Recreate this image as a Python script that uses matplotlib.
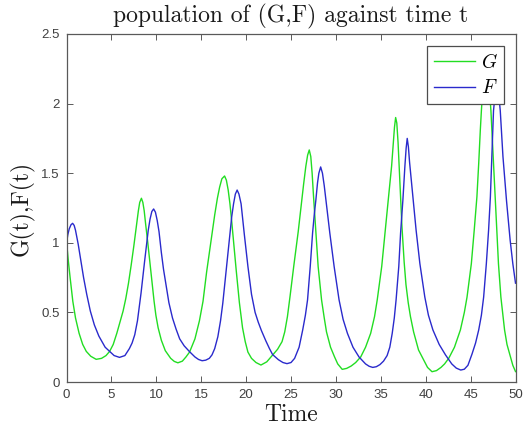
import matplotlib
matplotlib.use("Agg")
import matplotlib.pyplot as plt

# ---- data: (time, value) ----
g_points = [
    (0.0, 1.00), (0.1, 0.94), (0.2, 0.87), (0.4, 0.75), (0.7, 0.58), (1.0, 0.46), (1.4, 0.35),
    (1.8, 0.27), (2.2, 0.22), (2.7, 0.185), (3.3, 0.163), (3.9, 0.17), (4.4, 0.19), (4.8, 0.22),
    (5.2, 0.27), (5.6, 0.35), (6.0, 0.44), (6.3, 0.51), (6.6, 0.60), (6.9, 0.71), (7.2, 0.84),
    (7.5, 0.98), (7.7, 1.08), (7.85, 1.16), (8.0, 1.23), (8.15, 1.29), (8.34, 1.32), (8.5, 1.29),
    (8.65, 1.23), (8.8, 1.14), (9.05, 1.00), (9.3, 0.85), (9.55, 0.70), (9.75, 0.58), (9.95, 0.48),
    (10.2, 0.39), (10.56, 0.30), (11.0, 0.225), (11.6, 0.17), (12.0, 0.148), (12.4, 0.138),
    (12.9, 0.15), (13.3, 0.18), (13.7, 0.215), (14.3, 0.31), (14.8, 0.44), (15.2, 0.58),
    (15.6, 0.79), (16.1, 1.02), (16.5, 1.20), (16.8, 1.32), (17.05, 1.40), (17.3, 1.46),
    (17.6, 1.48), (17.8, 1.45), (18.0, 1.38), (18.2, 1.28), (18.4, 1.15), (18.6, 1.01),
    (18.9, 0.80), (19.25, 0.57), (19.6, 0.39), (19.9, 0.29), (20.2, 0.215), (20.6, 0.17),
    (21.1, 0.14), (21.65, 0.122), (22.3, 0.145), (22.95, 0.194), (23.5, 0.235), (24.0, 0.29),
    (24.3, 0.36), (24.6, 0.47), (24.9, 0.62), (25.3, 0.83), (25.8, 1.08), (26.1, 1.25),
    (26.4, 1.42), (26.65, 1.55), (26.85, 1.63), (27.03, 1.667), (27.2, 1.62), (27.35, 1.50),
    (27.5, 1.34), (27.77, 1.07), (28.02, 0.83), (28.4, 0.59), (28.7, 0.46), (28.95, 0.36),
    (29.4, 0.25), (29.85, 0.18), (30.2, 0.13), (30.7, 0.091), (31.2, 0.098), (31.7, 0.115),
    (32.2, 0.14), (32.76, 0.18), (33.3, 0.25), (33.87, 0.35), (34.3, 0.47), (34.6, 0.59),
    (35.1, 0.83), (35.46, 1.07), (35.83, 1.31), (36.2, 1.55), (36.4, 1.72), (36.52, 1.83),
    (36.65, 1.90), (36.78, 1.86), (36.92, 1.72), (37.1, 1.47), (37.35, 1.12), (37.6, 0.86),
    (37.8, 0.70), (38.05, 0.57), (38.3, 0.47), (38.65, 0.36), (39.2, 0.23), (39.8, 0.155),
    (40.2, 0.105), (40.7, 0.074), (41.2, 0.082), (41.7, 0.105), (42.1, 0.13), (42.56, 0.17),
    (43.2, 0.25), (43.86, 0.374), (44.3, 0.50), (44.6, 0.61), (45.08, 0.85), (45.4, 1.09),
    (45.7, 1.33), (45.9, 1.57), (46.08, 1.81), (46.2, 1.95), (46.45, 2.20), (46.73, 2.28),
    (47.0, 2.18), (47.26, 1.95), (47.45, 1.70), (47.6, 1.50), (47.8, 1.25), (47.95, 1.05),
    (48.1, 0.85), (48.37, 0.61), (48.78, 0.374), (49.05, 0.27), (49.33, 0.206), (49.7, 0.12),
    (50.0, 0.075),
]

f_points = [
    (0.0, 1.00), (0.15, 1.06), (0.3, 1.10), (0.5, 1.13), (0.68, 1.14), (0.85, 1.125), (1.0, 1.09),
    (1.3, 0.99), (1.6, 0.87), (1.9, 0.75), (2.25, 0.63), (2.65, 0.51), (3.1, 0.41), (3.6, 0.33),
    (4.3, 0.25), (4.8, 0.22), (5.3, 0.19), (5.9, 0.177), (6.5, 0.19), (7.0, 0.24), (7.3, 0.28),
    (7.6, 0.34), (7.9, 0.44), (8.3, 0.64), (8.7, 0.87), (9.1, 1.09), (9.3, 1.17), (9.5, 1.225),
    (9.7, 1.243), (9.9, 1.22), (10.1, 1.16), (10.3, 1.08), (10.56, 0.93), (10.8, 0.81),
    (11.07, 0.70), (11.4, 0.57), (11.8, 0.46), (12.2, 0.38), (12.6, 0.31), (13.1, 0.26),
    (13.7, 0.218), (14.3, 0.18), (14.7, 0.162), (15.1, 0.153), (15.5, 0.157), (15.9, 0.17),
    (16.2, 0.195), (16.5, 0.24), (16.85, 0.325), (17.15, 0.44), (17.4, 0.565), (17.78, 0.805),
    (18.15, 1.044), (18.4, 1.19), (18.6, 1.28), (18.8, 1.35), (19.0, 1.379), (19.2, 1.35),
    (19.44, 1.28), (19.8, 1.06), (20.2, 0.83), (20.6, 0.63), (21.0, 0.50), (21.35, 0.43),
    (21.7, 0.37), (22.2, 0.295), (22.6, 0.24), (22.95, 0.197), (23.6, 0.16), (24.1, 0.14),
    (24.55, 0.132), (25.0, 0.14), (25.4, 0.17), (25.9, 0.25), (26.3, 0.374), (26.6, 0.48),
    (26.84, 0.59), (27.14, 0.83), (27.4, 1.07), (27.6, 1.21), (27.77, 1.31), (27.95, 1.43),
    (28.1, 1.50), (28.3, 1.545), (28.5, 1.50), (28.7, 1.41), (28.88, 1.31), (29.32, 1.07),
    (29.8, 0.83), (30.35, 0.59), (30.8, 0.45), (31.28, 0.35), (31.9, 0.25), (32.57, 0.18),
    (33.3, 0.13), (33.7, 0.113), (34.1, 0.105), (34.5, 0.11), (34.9, 0.125), (35.3, 0.15),
    (35.7, 0.19), (36.0, 0.25), (36.27, 0.35), (36.5, 0.46), (36.7, 0.59), (37.0, 0.83),
    (37.2, 1.07), (37.46, 1.31), (37.68, 1.55), (37.82, 1.68), (37.94, 1.75), (38.07, 1.69),
    (38.2, 1.58), (38.57, 1.33), (38.93, 1.09), (39.35, 0.85), (39.9, 0.61), (40.3, 0.48),
    (40.8, 0.374), (41.5, 0.27), (42.2, 0.195), (42.9, 0.13), (43.4, 0.10), (43.9, 0.086),
    (44.3, 0.092), (44.7, 0.12), (45.15, 0.20), (45.55, 0.28), (45.9, 0.374), (46.2, 0.48),
    (46.45, 0.61), (46.75, 0.85), (47.0, 1.09), (47.2, 1.33), (47.33, 1.57), (47.47, 1.81),
    (47.55, 1.95), (47.75, 2.08), (47.95, 2.12), (48.15, 2.05), (48.3, 1.95), (48.6, 1.62),
    (49.0, 1.30), (49.4, 1.02), (49.7, 0.85), (50.0, 0.71),
]

g_time = [p[0] for p in g_points]
g_value = [p[1] for p in g_points]
f_time = [p[0] for p in f_points]
f_value = [p[1] for p in f_points]

x_ticks = [0, 5, 10, 15, 20, 25, 30, 35, 40, 45, 50]
y_ticks = [0, 0.5, 1, 1.5, 2, 2.5]
y_tick_labels = ["0", "0.5", "1", "1.5", "2", "2.5"]
series_labels = [r"$G$", r"$F$"]

plt.rcParams["mathtext.fontset"] = "cm"
plt.rcParams["axes.unicode_minus"] = False

fig = plt.figure(figsize=(5.23, 4.32), dpi=100)
ax = fig.add_axes([0.1272, 0.1157, 0.8585, 0.8056])

ax.plot(g_time, g_value, color="#22dd22", lw=1.0, label=series_labels[0])
ax.plot(f_time, f_value, color="#2a2acc", lw=1.0, label=series_labels[1])

ax.set_xlim(0, 50)
ax.set_ylim(0, 2.5)
ax.set_xticks(x_ticks)
ax.set_xticklabels([str(v) for v in x_ticks])
ax.set_yticks(y_ticks)
ax.set_yticklabels(y_tick_labels)

tick_color = "0.25"
ax.tick_params(axis="both", which="both", direction="in", length=4, width=0.6,
               top=True, right=True, colors=tick_color, labelsize=9.5, pad=5)
for lbl in ax.get_xticklabels() + ax.get_yticklabels():
    lbl.set_family("Liberation Sans")
for s in ax.spines.values():
    s.set_color("0.35")
    s.set_linewidth(0.9)

ax.set_title("population of (G,F) against time t", family="cmr10", fontsize=17,
             pad=8, color="0.1")
ax.set_xlabel("Time", family="cmr10", fontsize=17, labelpad=2, color="0.1")
ax.set_ylabel("G(t),F(t)", family="cmr10", fontsize=17, labelpad=5, color="0.1")

leg = ax.legend(loc="upper right", bbox_to_anchor=(0.975, 0.966), borderaxespad=0,
                fontsize=14, fancybox=False, framealpha=1, edgecolor="0.3",
                handlelength=2.1, handletextpad=0.3, labelspacing=0.35, borderpad=0.35)
leg.get_frame().set_linewidth(0.9)

fig.savefig("out.png", dpi=100)
